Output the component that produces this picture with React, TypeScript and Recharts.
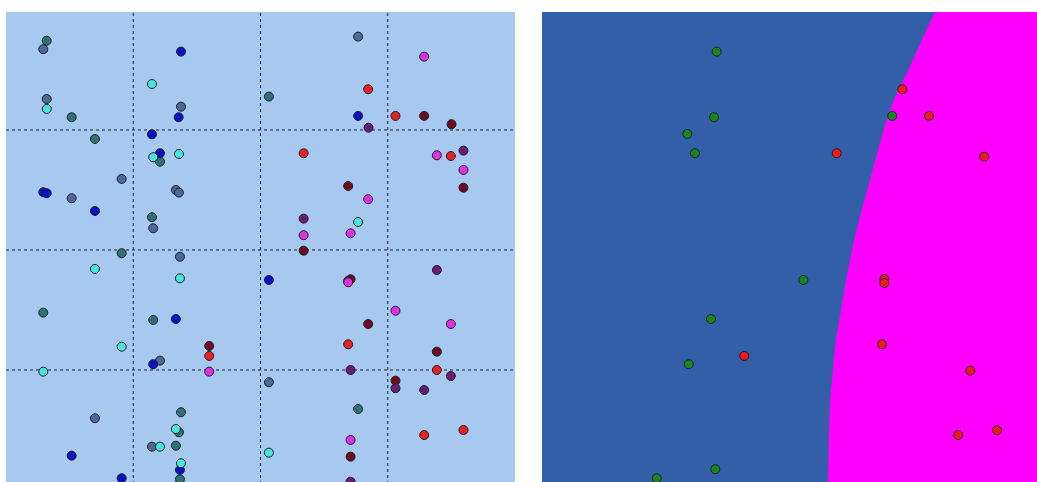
import React from 'react';
import {
  ScatterChart,
  ComposedChart,
  Scatter,
  Area,
  XAxis,
  YAxis,
  ReferenceLine
} from 'recharts';

// Left panel: all classes, grid cells are 1 unit wide / high
const tealPts = [
  { x: 0.32, y: 3.744 }, { x: 0.516, y: 3.106 }, { x: 0.699, y: 2.925 }, { x: 1.21, y: 2.736 },
  { x: 1.147, y: 2.273 }, { x: 0.909, y: 1.973 }, { x: 0.293, y: 1.478 }, { x: 1.157, y: 1.417 },
  { x: 1.375, y: 0.648 }, { x: 1.359, y: 0.481 }, { x: 1.335, y: 0.369 }, { x: 1.367, y: 0.089 },
  { x: 2.066, y: 3.278 }, { x: 2.767, y: 0.675 }
];
const slatePts = [
  { x: 0.293, y: 3.673 }, { x: 0.32, y: 3.258 }, { x: 1.375, y: 3.194 }, { x: 0.909, y: 2.592 },
  { x: 0.516, y: 2.431 }, { x: 1.335, y: 2.5 }, { x: 1.359, y: 2.478 }, { x: 1.157, y: 2.181 },
  { x: 1.367, y: 1.944 }, { x: 1.21, y: 1.078 }, { x: 0.699, y: 0.598 }, { x: 1.147, y: 0.361 },
  { x: 2.767, y: 3.778 }, { x: 2.066, y: 0.898 }
];
const bluePts = [
  { x: 1.375, y: 3.653 }, { x: 1.357, y: 3.106 }, { x: 1.147, y: 2.964 }, { x: 1.21, y: 2.806 },
  { x: 0.293, y: 2.481 }, { x: 0.32, y: 2.473 }, { x: 0.699, y: 2.325 }, { x: 1.335, y: 1.425 },
  { x: 1.157, y: 1.048 }, { x: 0.516, y: 0.286 }, { x: 1.367, y: 0.167 }, { x: 0.909, y: 0.098 },
  { x: 2.767, y: 3.117 }, { x: 2.066, y: 1.75 }
];
const cyanPts = [
  { x: 1.147, y: 3.383 }, { x: 0.32, y: 3.175 }, { x: 1.157, y: 2.773 }, { x: 1.359, y: 2.8 },
  { x: 0.699, y: 1.842 }, { x: 1.367, y: 1.764 }, { x: 0.909, y: 1.194 }, { x: 0.293, y: 0.986 },
  { x: 1.335, y: 0.508 }, { x: 1.21, y: 0.361 }, { x: 1.375, y: 0.223 }, { x: 2.767, y: 2.233 },
  { x: 2.066, y: 0.311 }
];
const redPts = [
  { x: 2.846, y: 3.339 }, { x: 3.061, y: 3.117 }, { x: 2.339, y: 2.806 }, { x: 3.496, y: 2.783 },
  { x: 1.597, y: 1.117 }, { x: 2.689, y: 1.214 }, { x: 3.386, y: 1.0 }, { x: 3.286, y: 0.458 },
  { x: 3.595, y: 0.5 }, { x: 2.689, y: 1.742 }
];
const maroonPts = [
  { x: 3.286, y: 3.117 }, { x: 3.501, y: 3.048 }, { x: 3.595, y: 2.519 }, { x: 2.689, y: 2.533 },
  { x: 2.339, y: 1.994 }, { x: 2.708, y: 1.756 }, { x: 2.846, y: 1.383 }, { x: 1.597, y: 1.2 },
  { x: 3.386, y: 1.153 }, { x: 3.061, y: 0.911 }, { x: 2.708, y: 0.278 }
];
const purplePts = [
  { x: 2.849, y: 3.019 }, { x: 3.595, y: 2.828 }, { x: 2.339, y: 2.261 }, { x: 3.386, y: 1.833 },
  { x: 2.708, y: 1.0 }, { x: 3.496, y: 0.95 }, { x: 3.061, y: 0.848 }, { x: 3.286, y: 0.833 },
  { x: 2.708, y: 0.069 }
];
const magentaPts = [
  { x: 3.286, y: 3.611 }, { x: 3.386, y: 2.789 }, { x: 3.595, y: 2.667 }, { x: 2.846, y: 2.423 },
  { x: 2.339, y: 2.123 }, { x: 2.708, y: 2.139 }, { x: 2.689, y: 1.731 }, { x: 3.061, y: 1.494 },
  { x: 3.496, y: 1.383 }, { x: 1.597, y: 0.986 }, { x: 2.708, y: 0.417 }
];

// Right panel: two classes only
const greenPts = [
  { x: 1.381, y: 3.653 }, { x: 1.36, y: 3.106 }, { x: 1.149, y: 2.967 }, { x: 1.209, y: 2.806 },
  { x: 1.336, y: 1.425 }, { x: 1.16, y: 1.048 }, { x: 1.37, y: 0.173 }, { x: 0.907, y: 0.098 },
  { x: 2.066, y: 1.75 }, { x: 2.769, y: 3.117 }
];
const redPts2 = [
  { x: 2.848, y: 3.339 }, { x: 3.059, y: 3.117 }, { x: 2.33, y: 2.806 }, { x: 3.496, y: 2.778 },
  { x: 1.599, y: 1.117 }, { x: 2.706, y: 1.758 }, { x: 2.706, y: 1.725 }, { x: 2.688, y: 1.214 },
  { x: 3.386, y: 0.994 }, { x: 3.289, y: 0.458 }, { x: 3.597, y: 0.498 }
];

// decision boundary (magenta region lies under / right of this curve)
const boundaryX = [2.261, 2.269, 2.3, 2.364, 2.451, 2.593, 2.735, 2.933, 3.107, 3.42, 4.0];
const boundaryY = [0, 0.5, 1.0, 1.5, 2.0, 2.583, 3.117, 3.583, 3.983, 4.58, 5.5];
const boundary = boundaryX.map((x, i) => ({ x, y: boundaryY[i] }));

const gridTicks = [1, 2, 3];
const Y_MAX = 3.983;

const dot = (fill: string) => (props: any) => (
  <circle cx={props.cx} cy={props.cy} r={4.5} fill={fill} stroke="#1c1c2c" strokeWidth={1} />
);

const leftSeries = [
  { name: 'teal', data: tealPts, color: '#2f7272' },
  { name: 'slate', data: slatePts, color: '#4d6a92' },
  { name: 'blue', data: bluePts, color: '#0a12c4' },
  { name: 'cyan', data: cyanPts, color: '#48e6dc' },
  { name: 'red', data: redPts, color: '#e82222' },
  { name: 'maroon', data: maroonPts, color: '#6c0c1c' },
  { name: 'purple', data: purplePts, color: '#6a1d6c' },
  { name: 'magenta', data: magentaPts, color: '#e032e0' }
];

export default function App() {
  return (
    <div style={{ position: 'absolute', left: 0, top: 0, width: 1037, height: 482, overflow: 'hidden', background: '#fff' }}>
      <div style={{ position: 'absolute', left: 6, top: 12, width: 509, height: 478, background: '#a7c9ef' }}>
        <ScatterChart width={509} height={478} margin={{ top: 0, right: 0, bottom: 0, left: 0 }}>
          <XAxis type="number" dataKey="x" domain={[0, 4]} hide allowDataOverflow />
          <YAxis type="number" dataKey="y" domain={[0, Y_MAX]} hide allowDataOverflow />
          {gridTicks.map((t) => (
            <ReferenceLine key={'v' + t} x={t} stroke="#1c2134" strokeDasharray="3 3" />
          ))}
          {gridTicks.map((t) => (
            <ReferenceLine key={'h' + t} y={t} stroke="#1c2134" strokeDasharray="3 3" />
          ))}
          {leftSeries.map((s) => (
            <Scatter key={s.name} name={s.name} data={s.data} shape={dot(s.color)} isAnimationActive={false} />
          ))}
        </ScatterChart>
      </div>
      <div style={{ position: 'absolute', left: 542, top: 12, width: 506, height: 478, background: '#335fa8' }}>
        <ComposedChart width={506} height={478} margin={{ top: 0, right: 0, bottom: 0, left: 0 }}>
          <XAxis type="number" dataKey="x" domain={[0, 4]} hide allowDataOverflow />
          <YAxis type="number" dataKey="y" domain={[0, Y_MAX]} hide allowDataOverflow />
          <Area
            data={boundary}
            dataKey="y"
            type="monotone"
            baseValue={0}
            fill="#ff00ff"
            fillOpacity={1}
            stroke="none"
            isAnimationActive={false}
          />
          <Scatter name="class A" data={greenPts} shape={dot('#16881a')} isAnimationActive={false} />
          <Scatter name="class B" data={redPts2} shape={dot('#f01a1a')} isAnimationActive={false} />
        </ComposedChart>
      </div>
    </div>
  );
}
